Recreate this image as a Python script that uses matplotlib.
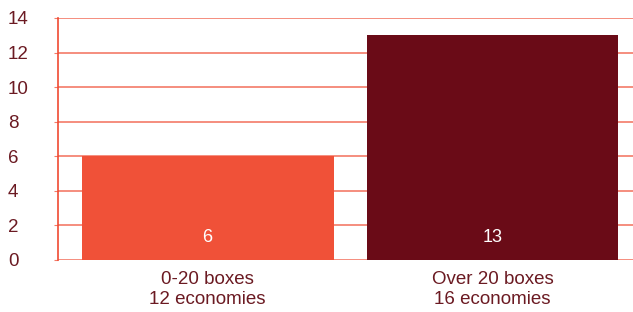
import matplotlib.pyplot as plt

plt.rcParams['font.family'] = ['Liberation Sans', 'DejaVu Sans']

categories = ['0-20 boxes\n12 economies', 'Over 20 boxes\n16 economies']
values = [6, 13]
bar_colors = ['#f05138', '#6a0b17']
yticks = [0, 2, 4, 6, 8, 10, 12, 14]

TEXT_COLOR = '#6b1a22'
GRID_COLOR = '#f37a68'
SPINE_COLOR = '#f04a32'

fig = plt.figure(figsize=(6.33, 3.12), dpi=100)
ax = fig.add_axes([58/633, 1 - 260/312, 1 - 58/633, (260 - 18)/312])

x = range(len(categories))
bars = ax.bar(x, values, width=0.884, color=bar_colors, zorder=3)

for xi, v in zip(x, values):
    ax.text(xi, 1.3, str(v), ha='center', va='center', color='white',
            fontsize=13, zorder=4)

ax.set_xlim(-0.525, 1.493)
ax.set_ylim(0, 14)
ax.set_yticks(yticks)
ax.set_xticks(list(x))
ax.set_xticklabels(categories, color=TEXT_COLOR, fontsize=13.5, linespacing=1.25)
ax.yaxis.grid(True, color=GRID_COLOR, linewidth=1.2, zorder=0)

ax.tick_params(axis='y', length=3, color=GRID_COLOR, pad=46 * 0.72,
               labelcolor=TEXT_COLOR, labelsize=13.5)
for lab in ax.get_yticklabels():
    lab.set_horizontalalignment('left')
ax.tick_params(axis='x', length=0, pad=8)

for side in ['top', 'right', 'bottom']:
    ax.spines[side].set_visible(False)
ax.spines['left'].set_color(SPINE_COLOR)
ax.spines['left'].set_linewidth(1.2)

fig.savefig('out.png', dpi=100)
